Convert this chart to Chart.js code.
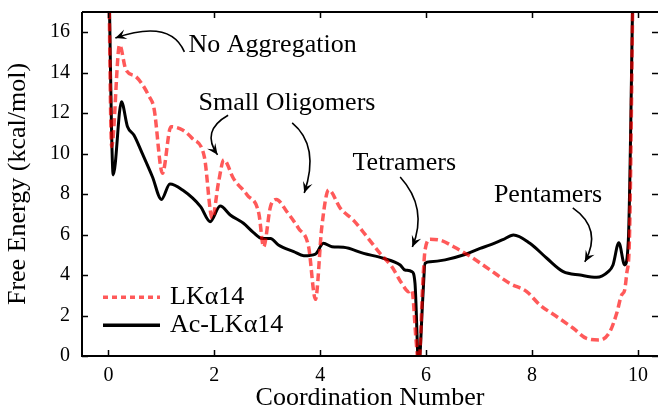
<!DOCTYPE html>
<html>
<head>
<meta charset="utf-8">
<script src="https://cdn.jsdelivr.net/npm/chart.js@4"></script>
<style>
html, body { margin: 0; padding: 0; background: #fff; }
</style>
</head>
<body>
<canvas id="chart" width="658" height="409"></canvas>
<script>
// LKα14 (red dashed)
const lkX = [0, 0.06, 0.21, 0.33, 0.52, 0.77, 0.86, 1.02, 1.18, 1.40, 1.58, 1.81, 1.96, 2.08, 2.18, 2.36, 2.62, 2.84, 2.93, 3.06, 3.17, 3.37, 3.59, 3.78, 3.91, 4.03, 4.16, 4.38, 4.63, 4.88, 5.13, 5.35, 5.54, 5.67, 5.73, 5.81, 5.86, 5.94, 5.98, 6.08, 6.26, 6.52, 6.83, 7.21, 7.58, 7.90, 8.15, 8.47, 8.78, 9.03, 9.28, 9.47, 9.60, 9.69, 9.75, 9.79, 9.84, 9.91];
const lkY = [20, 10.35, 15.37, 14.14, 13.8, 12.82, 12.24, 9.03, 11.33, 11.17, 10.76, 9.85, 6.8, 8.6, 9.69, 8.78, 7.96, 7.05, 5.4, 7.38, 7.74, 7.13, 6.31, 5.4, 2.8, 6.39, 8.21, 7.3, 6.7, 5.9, 5.07, 4.42, 3.59, 3.18, 3.26, 0.79, -0.5, 3.76, 5.24, 5.77, 5.73, 5.4, 4.93, 4.25, 3.59, 3.18, 2.52, 1.94, 1.37, 0.87, 0.79, 1.2, 2.11, 3.0, 3.26, 4.09, 5.73, 19];

// Ac-LKα14 (black solid)
const acX = [0, 0.09, 0.245, 0.36, 0.48, 0.64, 0.83, 1.0, 1.16, 1.4, 1.74, 1.92, 2.11, 2.3, 2.55, 2.74, 2.9, 3.06, 3.21, 3.5, 3.69, 3.91, 4.06, 4.22, 4.44, 4.82, 5.19, 5.51, 5.6, 5.73, 5.79, 5.86, 5.94, 5.98, 6.08, 6.36, 6.7, 7.02, 7.21, 7.45, 7.65, 7.96, 8.28, 8.59, 8.91, 9.22, 9.44, 9.53, 9.64, 9.75, 9.82, 9.91];
const acY = [20, 8.95, 12.57, 11.33, 10.92, 10.0, 8.86, 7.74, 8.5, 8.2, 7.38, 6.64, 7.41, 6.97, 6.56, 6.1, 5.81, 5.81, 5.49, 5.16, 4.96, 5.04, 5.57, 5.4, 5.37, 5.07, 4.83, 4.5, 4.25, 4.17, 3.59, -0.5, 3.0, 4.58, 4.66, 4.75, 4.99, 5.32, 5.49, 5.75, 5.98, 5.57, 4.83, 4.17, 4.0, 3.89, 4.17, 4.5, 5.6, 4.5, 5.73, 19];

const xTicks = [0, 2, 4, 6, 8, 10];
const yTicks = [0, 2, 4, 6, 8, 10, 12, 14, 16];
const seriesNames = ['LKα14', 'Ac-LKα14'];

// annotation labels and their arrows (data units)
const notes = [
    {text: 'No Aggregation', at: [1.51, 15.37], arrow: [[1.434, 15.03], [1.17, 16.66], [0.13, 15.72]]},
    {text: 'Small Oligomers', at: [1.70, 12.5], arrow: [[2.26, 11.9], [1.74, 11.13], [2.06, 9.94]]},
    {text: '', at: [0, 0], arrow: [[3.47, 11.52], [3.998, 10.38], [3.698, 8.06]]},
    {text: 'Tetramers', at: [4.61, 9.55], arrow: [[5.51, 8.85], [6.04, 7.32], [5.74, 5.39]]},
    {text: 'Pentamers', at: [7.28, 7.96], arrow: [[8.77, 7.32], [9.34, 6.28], [8.998, 4.65]]}
];

const RED = 'rgba(255, 0, 0, 0.65)';
const FONT = '"Liberation Serif", "DejaVu Serif", serif';

function toPoints(xs, ys) {
    return xs.map((v, i) => ({x: v, y: ys[i]}));
}

function arrowHead(ctx, tip, from) {
    const ang = Math.atan2(tip[1] - from[1], tip[0] - from[0]);
    const len = 11, half = 5;
    ctx.save();
    ctx.translate(tip[0], tip[1]);
    ctx.rotate(ang);
    ctx.beginPath();
    ctx.moveTo(0, 0);
    ctx.lineTo(-len, -half);
    ctx.lineTo(-len * 0.6, 0);
    ctx.lineTo(-len, half);
    ctx.closePath();
    ctx.fill();
    ctx.restore();
}

const frameAndNotes = {
    id: 'frameAndNotes',
    afterDraw: chart => {
        const {ctx, chartArea: a} = chart;
        const sx = chart.scales.x, sy = chart.scales.y;
        ctx.save();
        ctx.strokeStyle = '#000';
        ctx.fillStyle = '#000';
        ctx.lineWidth = 2;
        ctx.beginPath();
        ctx.moveTo(a.left, a.top);
        ctx.lineTo(a.left, a.bottom);
        ctx.lineTo(a.right, a.bottom);
        ctx.moveTo(a.left, a.top);
        ctx.lineTo(a.right, a.top);
        ctx.stroke();

        // inward ticks on all four sides
        ctx.lineWidth = 1.5;
        ctx.beginPath();
        xTicks.forEach(v => {
            const px = Math.round(sx.getPixelForValue(v)) + 0.5;
            ctx.moveTo(px, a.bottom); ctx.lineTo(px, a.bottom - 6);
            ctx.moveTo(px, a.top); ctx.lineTo(px, a.top + 6);
        });
        yTicks.forEach(v => {
            const py = Math.round(sy.getPixelForValue(v)) + 0.5;
            ctx.moveTo(a.left, py); ctx.lineTo(a.left + 6, py);
            ctx.moveTo(a.right, py); ctx.lineTo(a.right - 6, py);
        });
        ctx.stroke();

        // annotations
        ctx.font = '26px ' + FONT;
        ctx.textBaseline = 'middle';
        ctx.textAlign = 'left';
        ctx.lineWidth = 1.6;
        notes.forEach(n => {
            if (n.text) {
                ctx.fillText(n.text, sx.getPixelForValue(n.at[0]), sy.getPixelForValue(n.at[1]));
            }
            const p = n.arrow.map(q => [sx.getPixelForValue(q[0]), sy.getPixelForValue(q[1])]);
            ctx.beginPath();
            ctx.moveTo(p[0][0], p[0][1]);
            ctx.quadraticCurveTo(p[1][0], p[1][1], p[2][0], p[2][1]);
            ctx.stroke();
            arrowHead(ctx, p[2], p[1]);
        });

        // legend, lower left inside the axes
        const lx = a.left + 21, ly = sy.getPixelForValue(2.9), gap = 28;
        ctx.lineWidth = 3.5;
        ctx.strokeStyle = RED;
        ctx.setLineDash([5, 4]);
        ctx.beginPath();
        ctx.moveTo(lx, ly); ctx.lineTo(lx + 57, ly);
        ctx.stroke();
        ctx.setLineDash([]);
        ctx.strokeStyle = '#000';
        ctx.beginPath();
        ctx.moveTo(lx, ly + gap); ctx.lineTo(lx + 57, ly + gap);
        ctx.stroke();
        ctx.fillStyle = '#000';
        ctx.fillText(seriesNames[0], lx + 67, ly);
        ctx.fillText(seriesNames[1], lx + 67, ly + gap);
        ctx.restore();
    }
};

Chart.register(frameAndNotes);

new Chart(document.getElementById('chart'), {
    type: 'line',
    data: {
        datasets: [{
            label: seriesNames[0],
            data: toPoints(lkX, lkY),
            borderColor: RED,
            borderWidth: 3.5,
            borderDash: [8, 4],
            pointRadius: 0,
            cubicInterpolationMode: 'monotone',
            fill: false
        }, {
            label: seriesNames[1],
            data: toPoints(acX, acY),
            borderColor: '#000',
            borderWidth: 3,
            pointRadius: 0,
            cubicInterpolationMode: 'monotone',
            fill: false
        }]
    },
    options: {
        responsive: false,
        animation: false,
        events: [],
        layout: {padding: {left: 0, right: 0, top: 12, bottom: 0}},
        scales: {
            x: {
                type: 'linear',
                min: -0.5,
                max: 10.38,
                afterFit: scale => {
                    scale.height = 53;
                    scale.paddingLeft = 0;
                    scale.paddingRight = 0;
                },
                grid: {display: false, drawTicks: false},
                border: {display: false},
                ticks: {
                    stepSize: 2,
                    includeBounds: false,
                    padding: 8,
                    color: '#000',
                    font: {family: FONT, size: 20}
                },
                title: {
                    display: true,
                    text: 'Coordination Number',
                    color: '#000',
                    font: {family: FONT, size: 26, lineHeight: 1},
                    padding: {top: 0, bottom: -2}
                }
            },
            y: {
                min: 0,
                max: 17,
                afterFit: scale => {
                    scale.width = 82;
                    scale.paddingTop = 0;
                    scale.paddingBottom = 0;
                },
                grid: {display: false, drawTicks: false},
                border: {display: false},
                ticks: {
                    stepSize: 2,
                    includeBounds: false,
                    padding: 12,
                    color: '#000',
                    font: {family: FONT, size: 20}
                },
                title: {
                    display: true,
                    text: 'Free Energy (kcal/mol)',
                    color: '#000',
                    font: {family: FONT, size: 26, lineHeight: 1},
                    padding: {top: 5, bottom: 0}
                }
            }
        },
        plugins: {
            legend: {display: false},
            tooltip: {enabled: false}
        }
    }
});
</script>
</body>
</html>
